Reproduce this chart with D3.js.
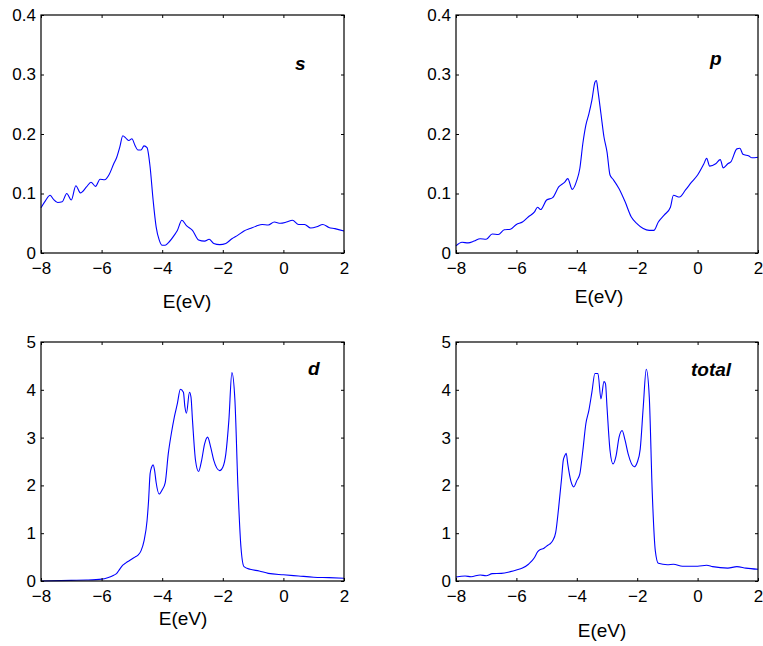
<!DOCTYPE html>
<meta charset="utf-8">
<style type="text/css">
    body{
      margin: 0;
      background: #fff;
    }
    svg{
      display: block;
    }
    text{
      font-family: "Liberation Sans", Arial, sans-serif;
      fill: #000;
    }
    .tick line{
      stroke: #000;
    }
</style>
<body>
<script src="https://cdn.jsdelivr.net/npm/d3@7"></script>
<script>

// energy grid (eV) and DOS
var sE   = [-8,-7.85,-7.7,-7.6,-7.45,-7.3,-7.15,-7,-6.85,-6.7,-6.5,-6.35,-6.2,-6.05,-5.9,-5.75,-5.6,-5.5,-5.4,-5.3,-5.2,-5.1,-5,-4.9,-4.8,-4.7,-4.6,-4.5,-4.4,-4.3,-4.2,-4.1,-4,-3.9,-3.8,-3.6,-3.5,-3.35,-3.2,-3,-2.8,-2.6,-2.45,-2.3,-2.1,-1.9,-1.7,-1.5,-1.3,-1.1,-0.9,-0.7,-0.5,-0.3,-0.1,0.1,0.3,0.5,0.7,0.9,1.1,1.3,1.5,1.7,2];
var sDOS = [0.076,0.088,0.097,0.091,0.085,0.086,0.1,0.089,0.113,0.101,0.111,0.119,0.112,0.124,0.123,0.132,0.15,0.161,0.178,0.197,0.193,0.189,0.192,0.181,0.173,0.173,0.18,0.177,0.145,0.089,0.044,0.022,0.013,0.013,0.017,0.03,0.038,0.055,0.046,0.038,0.022,0.02,0.023,0.016,0.014,0.016,0.024,0.03,0.037,0.041,0.045,0.048,0.047,0.052,0.05,0.052,0.055,0.048,0.048,0.042,0.044,0.048,0.043,0.041,0.037];

var pE   = [-8,-7.8,-7.6,-7.4,-7.2,-7,-6.8,-6.6,-6.4,-6.2,-6,-5.8,-5.6,-5.4,-5.3,-5.2,-5,-4.8,-4.6,-4.4,-4.3,-4.15,-4,-3.9,-3.8,-3.7,-3.6,-3.5,-3.4,-3.35,-3.3,-3.2,-3.1,-3,-2.9,-2.8,-2.6,-2.4,-2.2,-2,-1.8,-1.6,-1.45,-1.3,-1.1,-0.9,-0.8,-0.6,-0.4,-0.2,0,0.2,0.3,0.4,0.6,0.75,0.85,1,1.1,1.3,1.4,1.5,1.7,1.8,2];
var pDOS = [0.012,0.018,0.017,0.02,0.024,0.023,0.032,0.031,0.039,0.04,0.048,0.052,0.061,0.069,0.077,0.073,0.089,0.093,0.111,0.119,0.125,0.107,0.122,0.142,0.184,0.215,0.234,0.257,0.287,0.29,0.273,0.234,0.195,0.17,0.131,0.124,0.108,0.086,0.061,0.049,0.041,0.038,0.038,0.052,0.064,0.077,0.097,0.094,0.106,0.119,0.131,0.149,0.159,0.146,0.15,0.157,0.143,0.15,0.153,0.175,0.176,0.166,0.163,0.16,0.161];

var dE   = [-8,-7,-6.5,-6,-5.8,-5.6,-5.5,-5.4,-5.3,-5.2,-5.1,-5,-4.9,-4.8,-4.7,-4.6,-4.5,-4.45,-4.4,-4.35,-4.3,-4.25,-4.2,-4.1,-4,-3.9,-3.8,-3.7,-3.6,-3.5,-3.4,-3.3,-3.25,-3.2,-3.1,-3.05,-3,-2.9,-2.8,-2.7,-2.6,-2.5,-2.4,-2.3,-2.1,-2,-1.9,-1.8,-1.7,-1.6,-1.5,-1.4,-1.3,-1.1,-0.8,-0.5,0,0.5,1,1.5,2];
var dDOS = [0,0.014,0.02,0.04,0.07,0.12,0.16,0.25,0.33,0.38,0.42,0.46,0.5,0.54,0.63,0.84,1.26,1.68,2.24,2.38,2.43,2.31,2.06,1.82,1.91,2.06,2.66,3.08,3.43,3.71,4.01,3.95,3.64,3.51,3.95,3.85,3.36,2.52,2.29,2.52,2.87,3.01,2.8,2.53,2.31,2.38,2.66,3.36,4.36,3.78,1.96,0.7,0.3,0.245,0.21,0.16,0.13,0.105,0.08,0.07,0.056];

var tE   = [-8,-7.7,-7.5,-7.2,-7,-6.8,-6.5,-6.2,-6,-5.8,-5.6,-5.4,-5.3,-5.2,-5.1,-5,-4.9,-4.8,-4.7,-4.6,-4.5,-4.45,-4.4,-4.35,-4.3,-4.2,-4.1,-4,-3.9,-3.8,-3.7,-3.6,-3.5,-3.4,-3.3,-3.2,-3.1,-3.05,-3,-2.9,-2.8,-2.7,-2.6,-2.5,-2.4,-2.3,-2.1,-2,-1.9,-1.8,-1.7,-1.6,-1.5,-1.4,-1.3,-1,-0.8,-0.5,0,0.3,0.5,1,1.3,1.6,2];
var tDOS = [0.084,0.105,0.09,0.126,0.11,0.154,0.16,0.196,0.23,0.27,0.35,0.49,0.61,0.66,0.68,0.73,0.77,0.84,1.01,1.54,2.17,2.52,2.62,2.67,2.45,2.1,1.97,2.1,2.24,2.73,3.29,3.57,3.95,4.34,4.34,3.81,4.17,4.13,3.64,2.73,2.45,2.62,3.01,3.15,2.94,2.66,2.39,2.48,2.76,3.64,4.43,3.85,1.82,0.63,0.37,0.34,0.35,0.31,0.31,0.33,0.3,0.27,0.3,0.27,0.245];

var xTicks     = [-8, -6, -4, -2, 0, 2];
var yTicksOrb  = [0, 0.1, 0.2, 0.3, 0.4];
var yTicksD    = [0, 1, 2, 3, 4, 5];
var panelNames = ["s", "p", "d", "total"];

// panel boxes (pixels) and label placement
var panels = [
  {name: panelNames[0], E: sE, v: sDOS, yMax: 0.4, yTicks: yTicksOrb, x0: 41,  x1: 344, y0: 15,  y1: 253, lx: 295, ly: 70,  ex: 187, ey: 308},
  {name: panelNames[1], E: pE, v: pDOS, yMax: 0.4, yTicks: yTicksOrb, x0: 456, x1: 758, y0: 15,  y1: 253, lx: 710, ly: 65,  ex: 599, ey: 303},
  {name: panelNames[2], E: dE, v: dDOS, yMax: 5,   yTicks: yTicksD,   x0: 41,  x1: 344, y0: 342, y1: 581, lx: 308, ly: 375, ex: 183, ey: 625},
  {name: panelNames[3], E: tE, v: tDOS, yMax: 5,   yTicks: yTicksD,   x0: 456, x1: 758, y0: 342, y1: 581, lx: 691, ly: 376, ex: 602, ey: 637}
];

var svg = d3.select("body")
  .append("svg")
  .attr("width", 763)
  .attr("height", 646);

panels.forEach(function(p){

  var x = d3.scaleLinear().domain([-8, 2]).range([p.x0, p.x1]);
  var y = d3.scaleLinear().domain([0, p.yMax]).range([p.y1, p.y0]);

  var g = svg.append("g");

  //the curve
  var line = d3.line()
    .x(function(d){ return x(d[0]); })
    .y(function(d){ return y(d[1]); })
    .curve(d3.curveMonotoneX);

  g.append("path")
    .datum(p.E.map(function(e, i){ return [e, p.v[i]]; }))
    .attr("fill", "none")
    .attr("stroke", "#0000ff")
    .attr("stroke-width", 1.1)
    .attr("d", line);

  //bottom + left axes with inward ticks
  g.append("g")
    .attr("transform", "translate(0," + p.y1 + ")")
    .call(d3.axisBottom(x).tickValues(xTicks).tickSize(-3).tickSizeOuter(0).tickPadding(9));

  g.append("g")
    .attr("transform", "translate(" + p.x0 + ",0)")
    .call(d3.axisLeft(y).tickValues(p.yTicks).tickSize(-3).tickSizeOuter(0).tickPadding(5).tickFormat(d3.format("")));

  //mirrored ticks on top and right
  g.append("g")
    .attr("transform", "translate(0," + p.y0 + ")")
    .call(d3.axisTop(x).tickValues(xTicks).tickSize(-3).tickSizeOuter(0).tickFormat(""));

  g.append("g")
    .attr("transform", "translate(" + p.x1 + ",0)")
    .call(d3.axisRight(y).tickValues(p.yTicks).tickSize(-3).tickSizeOuter(0).tickFormat(""));

  g.selectAll(".domain").remove();
  g.selectAll(".tick text")
    .style("font-size", "17px")
    .style("font-family", "'Liberation Sans', Arial, sans-serif")
    .attr("fill", "#000");

  //box
  g.append("rect")
    .attr("x", p.x0)
    .attr("y", p.y0)
    .attr("width", p.x1 - p.x0)
    .attr("height", p.y1 - p.y0)
    .attr("fill", "none")
    .attr("stroke", "#000")
    .attr("stroke-width", 1.2);

  //orbital label
  g.append("text")
    .attr("x", p.lx)
    .attr("y", p.ly)
    .style("font-size", "19px")
    .style("font-weight", "bold")
    .style("font-style", "italic")
    .text(p.name);

  //x label
  g.append("text")
    .attr("x", p.ex)
    .attr("y", p.ey)
    .attr("text-anchor", "middle")
    .style("font-size", "19px")
    .text("E(eV)");
});

</script>
</body>
